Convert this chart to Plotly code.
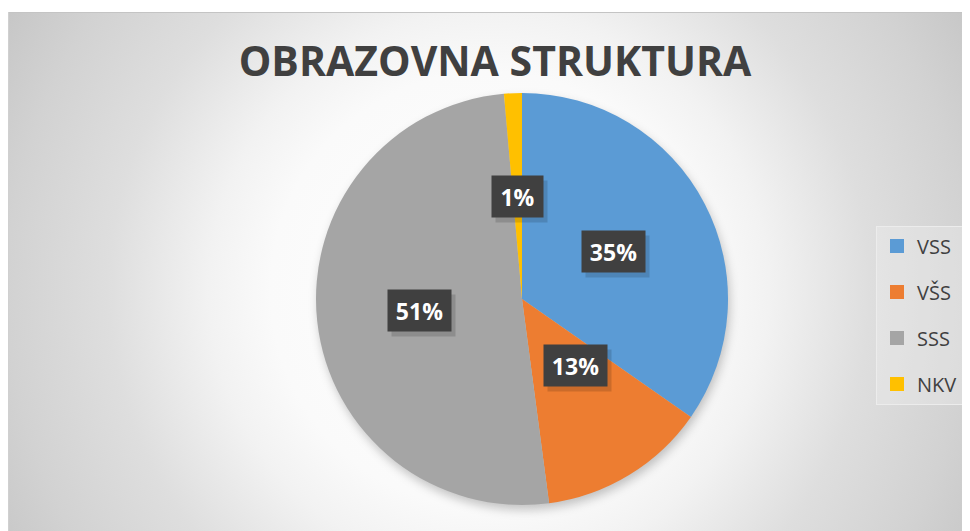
import base64

import numpy as np
import plotly.graph_objects as go

# Data
categories = ["VSS", "VŠS", "SSS", "NKV"]
shares = [34.7, 13.2, 50.7, 1.4]
colors = ["#5B9BD5", "#ED7D31", "#A5A5A5", "#FFC000"]
title_text = "OBRAZOVNA STRUKTURA"

W, H = 962, 523  # page adds an 8px body margin
CX, CY, R = 514, 291, 206  # pie centre / radius in pixels
FONT = "Open Sans"


def background_svg():
    # radial grey chart-area fill plus a soft shadow under the pie
    svg = f"""<svg xmlns='http://www.w3.org/2000/svg' width='{W}' height='{H}'>
<defs>
<radialGradient id='g' gradientUnits='userSpaceOnUse' cx='481' cy='282' r='560'>
<stop offset='0' stop-color='#ffffff'/>
<stop offset='0.39' stop-color='#fafafa'/>
<stop offset='0.5' stop-color='#f2f2f2'/>
<stop offset='0.68' stop-color='#dedede'/>
<stop offset='0.86' stop-color='#d2d2d2'/>
<stop offset='1' stop-color='#c6c6c6'/>
</radialGradient>
<filter id='b' x='-20%' y='-20%' width='140%' height='140%'>
<feGaussianBlur stdDeviation='5'/>
</filter>
</defs>
<rect x='0' y='4' width='{W}' height='{H - 4}' fill='url(#g)'/>
<line x1='0' y1='4.5' x2='{W}' y2='4.5' stroke='#c4c4c4' stroke-width='1'/>
<line x1='0.5' y1='4' x2='0.5' y2='{H}' stroke='#d0d0d0' stroke-width='1'/>
<circle cx='{CX + 2}' cy='{CY + 5}' r='{R}' fill='rgba(0,0,0,0.22)' filter='url(#b)'/>
</svg>"""
    return "data:image/svg+xml;base64," + base64.b64encode(svg.encode()).decode()


fig = go.Figure()

fig.add_trace(
    go.Pie(
        labels=categories,
        values=shares,
        sort=False,
        direction="clockwise",
        rotation=0,
        marker=dict(colors=colors, line=dict(width=0)),
        textinfo="none",
        showlegend=False,
        domain=dict(
            x=[(CX - R) / W, (CX + R) / W],
            y=[1 - (CY + R) / H, 1 - (CY - R) / H],
        ),
    )
)

# legend entries
for name, col in zip(categories, colors):
    fig.add_trace(
        go.Scatter(
            x=[None],
            y=[None],
            mode="markers",
            name=name,
            legendgroup=name,
            marker=dict(symbol="square", size=14, color=col),
        )
    )

# percentage labels in dark boxes, placed at half radius of each slice
total = sum(shares)
cum = np.cumsum([0] + shares)
for i, v in enumerate(shares):
    mid = np.deg2rad((cum[i] + v / 2) / total * 360)
    px_ = CX + 0.5 * R * np.sin(mid)
    py_ = CY - 0.5 * R * np.cos(mid)
    label = f"{round(v / total * 100)}%"
    wbox = 51 if len(label) == 2 else 63
    # soft shadow
    fig.add_annotation(
        x=(px_ + 4) / W, y=1 - (py_ + 5) / H, xref="paper", yref="paper",
        text=" ", showarrow=False, width=wbox, height=41, borderpad=0,
        bgcolor="rgba(0,0,0,0.14)",
    )
    fig.add_annotation(
        x=px_ / W, y=1 - py_ / H, xref="paper", yref="paper",
        text=f"<b>{label}</b>", showarrow=False, width=wbox, height=41,
        borderpad=0, bgcolor="#404040",
        font=dict(family=FONT, size=23, color="#ffffff"),
    )

fig.update_layout(
    width=W,
    height=H,
    margin=dict(l=0, r=0, t=0, b=0),
    paper_bgcolor="#ffffff",
    plot_bgcolor="rgba(0,0,0,0)",
    xaxis=dict(visible=False, range=[0, 1], fixedrange=True),
    yaxis=dict(visible=False, range=[0, 1], fixedrange=True),
    images=[
        dict(
            source=background_svg(),
            xref="paper", yref="paper",
            x=0, y=1, sizex=1, sizey=1,
            xanchor="left", yanchor="top",
            sizing="stretch", layer="below",
        )
    ],
    title=dict(
        text=f"<b>{title_text}</b>",
        x=487 / W, xanchor="center",
        y=1 - 54 / H, yanchor="middle", yref="paper",
        font=dict(family=FONT, size=41, color="#404040"),
    ),
    legend=dict(
        x=868 / W, xanchor="left",
        y=1 - 307 / H, yanchor="middle",
        bgcolor="rgba(240,240,240,0.35)",
        bordercolor="#ececec",
        borderwidth=1,
        font=dict(family=FONT, size=20, color="#404040"),
        tracegroupgap=17,
        itemwidth=30,
    ),
    showlegend=True,
)

fig.write_html("out.html")
